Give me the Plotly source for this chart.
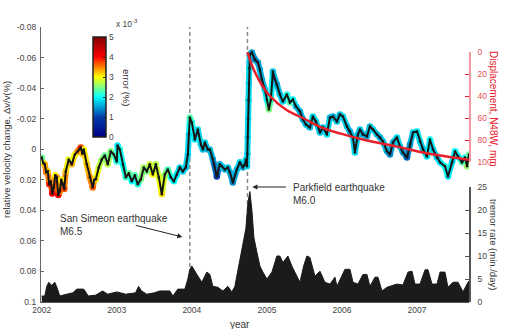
import plotly.graph_objects as go
from plotly.colors import sample_colorscale

# ---------------- data ----------------
# relative seismic velocity change dv/v (%) and its error (x1e-3 %)
dvv_year = [
    2002.00, 2002.02, 2002.04, 2002.06, 2002.08, 2002.10, 2002.12, 2002.14, 2002.16, 2002.18,
    2002.20, 2002.22, 2002.24, 2002.26, 2002.28, 2002.30, 2002.32,
    2002.36, 2002.40, 2002.44, 2002.48, 2002.52, 2002.54, 2002.56, 2002.60, 2002.64, 2002.68,
    2002.70, 2002.72, 2002.76, 2002.80, 2002.84, 2002.88, 2002.92, 2002.96,
    2003.00, 2003.01, 2003.04, 2003.08, 2003.12, 2003.16, 2003.20, 2003.24, 2003.28, 2003.32,
    2003.36, 2003.40, 2003.44, 2003.48, 2003.52, 2003.56, 2003.60, 2003.64, 2003.68, 2003.72,
    2003.76, 2003.80, 2003.84, 2003.88, 2003.92, 2003.947, 2003.96, 2003.973,
    2004.000, 2004.040, 2004.080, 2004.120, 2004.147, 2004.173, 2004.213, 2004.240, 2004.280,
    2004.333, 2004.373, 2004.400, 2004.440, 2004.480, 2004.507, 2004.547, 2004.600, 2004.640,
    2004.680, 2004.707, 2004.720,
    2004.735, 2004.740, 2004.745, 2004.750, 2004.755, 2004.760, 2004.765, 2004.773, 2004.800,
    2004.840, 2004.880, 2004.907, 2004.933, 2004.973, 2005.000, 2005.027, 2005.053, 2005.080,
    2005.107, 2005.133, 2005.173, 2005.213, 2005.267, 2005.307, 2005.347, 2005.387, 2005.440,
    2005.480, 2005.520, 2005.573, 2005.613, 2005.653, 2005.707, 2005.747, 2005.800, 2005.840,
    2005.880, 2005.933, 2005.973, 2006.013, 2006.067, 2006.107, 2006.147, 2006.173, 2006.213,
    2006.240, 2006.280, 2006.333, 2006.373, 2006.413, 2006.467, 2006.507, 2006.547, 2006.600,
    2006.640, 2006.680, 2006.733, 2006.773, 2006.813, 2006.867, 2006.907, 2006.947, 2007.000,
    2007.040, 2007.080, 2007.133, 2007.173, 2007.213, 2007.267, 2007.307, 2007.373, 2007.413,
    2007.467, 2007.507, 2007.547, 2007.600, 2007.640, 2007.667, 2007.693,
]
dvv_value = [
    0.0054, 0.0090, 0.0099, 0.0150, 0.0145, 0.0230, 0.0210, 0.0290, 0.0250, 0.0170,
    0.0184, 0.0300, 0.0276, 0.0200, 0.0230, 0.0260, 0.0145,
    0.0067, 0.0099, 0.0034, 0.0014, -0.0012, 0.0030, 0.0001, 0.0099, 0.0184, 0.0250,
    0.0200, 0.0197, 0.0119, 0.0067, 0.0041, 0.0099, 0.0014, 0.0034,
    0.0080, -0.0025, 0.0001, 0.0099, 0.0184, 0.0158, 0.0210, 0.0171, 0.0230, 0.0197,
    0.0119, 0.0145, 0.0099, 0.0165, 0.0099, 0.0184, 0.0295, 0.0165, 0.0132, 0.0184,
    0.0210, 0.0165, 0.0119, 0.0145, 0.0119, 0.0034, -0.0097, -0.0208,
    -0.0175, -0.0064, -0.0129, -0.0031, 0.0001, -0.0044, 0.0001, 0.0001, 0.0067,
    0.0178, 0.0099, 0.0112, 0.0132, 0.0119, 0.0152, 0.0217, 0.0132, 0.0086,
    0.0119, 0.0099, 0.0067,
    0.0112, 0.0030, -0.0080, -0.0200, -0.0320, -0.0430, -0.0530, -0.0620, -0.0633,
    -0.0587, -0.0567, -0.0520, -0.0456, -0.0391, -0.0325, -0.0260, -0.0325, -0.0509,
    -0.0456, -0.0424, -0.0358, -0.0312, -0.0358, -0.0306, -0.0325, -0.0280, -0.0247,
    -0.0195, -0.0162, -0.0142, -0.0214, -0.0182, -0.0110, -0.0142, -0.0097, -0.0208,
    -0.0214, -0.0182, -0.0227, -0.0214, -0.0149, -0.0116, -0.0077, 0.0021, -0.0097,
    -0.0129, -0.0097, -0.0084, -0.0149, -0.0129, -0.0097, -0.0077, -0.0051, 0.0014,
    0.0034, -0.0044, -0.0077, -0.0018, 0.0021, 0.0054, -0.0031, -0.0110, -0.0116,
    -0.0051, 0.0001, 0.0047, -0.0064, 0.0001, 0.0054, 0.0086, 0.0112, 0.0178,
    0.0086, 0.0014, 0.0047, 0.0086, 0.0054, 0.0112, 0.0034,
]
dvv_error = [
    2.4, 2.8, 3.3, 3.6, 3.2, 3.9, 3.4, 4.1, 3.6, 3.0,
    3.4, 4.0, 3.5, 3.1, 3.4, 3.7, 3.2,
    2.9, 3.3, 3.0, 3.5, 3.8, 3.2, 3.0, 3.2, 3.4, 3.6,
    3.3, 3.1, 2.8, 2.6, 2.4, 2.7, 2.5, 2.3,
    2.1, 1.9, 2.1, 2.0, 2.2, 2.4, 2.0, 2.3, 2.1, 2.5,
    2.6, 2.5, 2.8, 3.0, 2.7, 2.9, 3.1, 2.6, 2.3, 2.1,
    2.0, 1.9, 1.8, 1.8, 1.7, 1.8, 1.8, 2.3,
    2.1, 1.9, 1.8, 1.8, 1.7, 1.8, 1.6, 1.7, 1.5,
    1.0, 1.6, 1.7, 1.6, 1.7, 1.6, 1.4, 1.7, 1.8,
    1.6, 1.7, 1.8,
    1.8, 1.8, 1.8, 1.8, 1.8, 1.8, 1.8, 1.7, 1.5,
    1.4, 1.5, 1.6, 1.6, 1.7, 2.0, 2.5, 2.2, 1.7,
    1.6, 1.6, 1.7, 1.8, 2.1, 2.3, 2.0, 1.7, 1.6,
    1.6, 1.7, 1.7, 1.8, 1.8, 1.7, 1.7, 1.9, 1.7,
    1.6, 1.7, 1.7, 1.8, 1.7, 1.6, 1.7, 1.8, 1.7,
    1.7, 1.6, 1.6, 1.7, 1.8, 1.7, 1.6, 1.7, 1.6,
    1.4, 1.6, 1.8, 1.7, 1.5, 1.2, 1.5, 1.8, 1.9,
    1.8, 1.7, 1.9, 2.0, 1.8, 1.7, 1.9, 2.1, 1.9,
    1.8, 2.0, 1.9, 2.3, 2.1, 2.6, 2.4,
]

# postseismic displacement (mm) after Parkfield
disp_year = [2004.741, 2004.800, 2004.867, 2004.933, 2005.040, 2005.267, 2005.480,
             2005.707, 2005.973, 2006.307, 2006.733, 2007.133, 2007.693]
disp_mm = [0, 12, 22, 30, 40, 53, 60, 68, 74, 80, 86, 92, 98]

# tremor rate (min./day)
tremor_year = [
    2002.000, 2002.040, 2002.067, 2002.093, 2002.133, 2002.173, 2002.207, 2002.240, 2002.333, 2002.413,
    2002.467, 2002.560, 2002.620, 2002.720, 2002.810, 2002.880, 2003.000, 2003.120, 2003.250, 2003.290,
    2003.330, 2003.400, 2003.500, 2003.573, 2003.707, 2003.747, 2003.813, 2003.907, 2003.947, 2003.973,
    2004.000, 2004.027, 2004.067, 2004.133, 2004.200, 2004.240, 2004.280, 2004.347, 2004.413, 2004.480,
    2004.533, 2004.573, 2004.613, 2004.640, 2004.680, 2004.720, 2004.747, 2004.773, 2004.800, 2004.827,
    2004.867, 2004.907, 2004.947, 2005.000, 2005.067, 2005.133, 2005.173, 2005.213, 2005.280, 2005.333,
    2005.400, 2005.440, 2005.493, 2005.533, 2005.573, 2005.640, 2005.707, 2005.773, 2005.840, 2005.907,
    2005.933, 2006.040, 2006.107, 2006.147, 2006.213, 2006.280, 2006.333, 2006.373, 2006.440, 2006.480,
    2006.533, 2006.600, 2006.733, 2006.813, 2006.880, 2006.933, 2006.973, 2007.040, 2007.107, 2007.147,
    2007.200, 2007.267, 2007.307, 2007.373, 2007.413, 2007.480, 2007.547, 2007.613, 2007.680, 2007.693,
]
tremor_rate = [
    1.3, 1.3, 3.4, 4.3, 3.6, 4.3, 3.0, 1.3, 1.7, 2.0,
    2.8, 2.8, 1.3, 1.5, 2.4, 1.7, 2.2, 1.7, 2.0, 3.4,
    2.4, 1.7, 2.0, 2.4, 2.4, 1.3, 2.8, 2.8, 5.0, 7.1,
    7.8, 7.0, 6.0, 4.3, 6.5, 6.0, 3.4, 3.2, 2.4, 3.4,
    2.2, 3.4, 7.0, 9.3, 13.0, 16.0, 21.5, 24.0, 20.0, 14.0,
    10.8, 7.8, 6.5, 5.0, 6.5, 10.0, 10.0, 8.6, 10.0, 7.8,
    5.6, 4.3, 8.0, 10.0, 9.7, 5.6, 6.7, 4.3, 3.9, 5.4,
    3.4, 7.1, 7.1, 4.3, 3.9, 6.0, 6.0, 3.4, 5.4, 5.4,
    2.4, 3.2, 3.9, 3.7, 6.5, 6.7, 3.9, 3.9, 7.0, 7.0,
    3.9, 3.9, 6.5, 6.5, 3.2, 4.3, 4.3, 2.2, 4.3, 4.6,
]

# earthquakes: San Simeon (2003-12-22) and Parkfield (2004-09-28)
quake_year = [2003.973, 2004.741]

year_ticks = [2002, 2003, 2004, 2005, 2006, 2007]
dvv_ticks = [-0.08, -0.06, -0.04, -0.02, 0, 0.02, 0.04, 0.06, 0.08, 0.1]
dvv_ticktext = ["-0.08", "-0.06", "-0.04", "-0.02", "0", "0.02", "0.04", "0.06", "0.08", "0.1"]
disp_ticks = [0, 20, 40, 60, 80, 100]
tremor_ticks = [0, 5, 10, 15, 20, 25]
error_ticks = [0, 1, 2, 3, 4, 5]
ERR_MIN, ERR_MAX = 0, 5

# ---------------- layout helpers ----------------
W, H = 506, 329
ML, MR, MT, MB = 41, 37, 27, 27
PW, PH = W - ML - MR, H - MT - MB


def px(x):
    return (x - ML) / PW


def py(y):
    return (H - MB - y) / PH


FONT = "Liberation Sans, Arial, Helvetica, sans-serif"
GREY = "#444444"
RED = "#e8202a"

fig = go.Figure()

# tremor rate, filled
fig.add_trace(go.Scatter(
    x=tremor_year, y=tremor_rate, yaxis="y3", mode="lines",
    line=dict(color="#1b1a1c", width=1), fill="tozeroy", fillcolor="#1b1a1c",
    hoverinfo="skip", showlegend=False))

# coloured halo along the dv/v curve: each segment takes the colour of its mean error
seg_err = [(dvv_error[i] + dvv_error[i + 1]) / 2 for i in range(len(dvv_year) - 1)]
seg_col = sample_colorscale("Jet", [(e - ERR_MIN) / (ERR_MAX - ERR_MIN) for e in seg_err])
for i, col in enumerate(seg_col):
    fig.add_trace(go.Scatter(
        x=dvv_year[i:i + 2], y=dvv_value[i:i + 2], mode="lines",
        line=dict(color=col, width=6), hoverinfo="skip", showlegend=False))

# dv/v points coloured by error (with colour bar)
fig.add_trace(go.Scatter(
    x=dvv_year, y=dvv_value, mode="markers",
    marker=dict(
        size=6.5, color=dvv_error, colorscale="Jet", cmin=ERR_MIN, cmax=ERR_MAX,
        line=dict(width=0),
        colorbar=dict(
            x=px(93), xanchor="left", xpad=0,
            y=py(37), yanchor="top", ypad=0,
            len=100 / PH, lenmode="fraction", thickness=13,
            outlinecolor="#222222", outlinewidth=1.5,
            tickvals=error_ticks, ticks="inside", ticklen=3, tickcolor="#222222",
            tickfont=dict(family=FONT, size=8.5, color=GREY),
        ),
    ),
    showlegend=False))

# dv/v black trace on top
fig.add_trace(go.Scatter(
    x=dvv_year, y=dvv_value, mode="lines+markers",
    line=dict(color="#151515", width=2),
    marker=dict(size=2.5, color="#151515"),
    showlegend=False))

# displacement
fig.add_trace(go.Scatter(
    x=disp_year, y=disp_mm, yaxis="y2", mode="lines",
    line=dict(color=RED, width=2.5, shape="spline", smoothing=1.0),
    showlegend=False))

# earthquake times
shapes = [
    dict(type="line", xref="x", yref="paper", x0=q, x1=q, y0=0, y1=1,
         line=dict(color="#8a8a8a", width=1.5, dash="4px,3px"), layer="below")
    for q in quake_year
]

txt = dict(family=FONT, size=10, color="#333333")
annotations = [
    dict(text="San Simeon earthquake<br>M6.5", xref="paper", yref="paper",
         x=px(58), y=py(211), xanchor="left", yanchor="top", align="left",
         showarrow=False, font=txt),
    dict(text="", xref="x", yref="paper", x=2003.873, y=py(237),
         ax=-48, ay=-12, showarrow=True, arrowhead=2, arrowsize=1,
         arrowwidth=1, arrowcolor="#222222"),
    dict(text="Parkfield earthquake<br>M6.0", xref="paper", yref="paper",
         x=px(291), y=py(180), xanchor="left", yanchor="top", align="left",
         showarrow=False, font=txt),
    dict(text="", xref="x", yref="paper", x=2004.807, y=py(187),
         ax=35, ay=0, showarrow=True, arrowhead=2, arrowsize=1,
         arrowwidth=1, arrowcolor="#222222"),
    dict(text="relative velocity change, \u0394v/v(%)", xref="paper", yref="paper",
         x=px(6), y=py(150), xanchor="center", yanchor="middle", textangle=-90,
         showarrow=False, font=dict(family=FONT, size=9.5, color="#333333")),
    dict(text="Displacement, N48W, mm", xref="paper", yref="paper",
         x=px(494), y=py(109), xanchor="center", yanchor="middle", textangle=90,
         showarrow=False, font=dict(family=FONT, size=10, color=RED)),
    dict(text="tremor rate (min./day)", xref="paper", yref="paper",
         x=px(494), y=py(245), xanchor="center", yanchor="middle", textangle=90,
         showarrow=False, font=dict(family=FONT, size=9.5, color="#333333")),
    dict(text="year", xref="paper", yref="paper", x=px(240), y=py(324),
         xanchor="center", yanchor="middle", showarrow=False, font=txt),
    dict(text="x 10<sup>-3</sup>", xref="paper", yref="paper",
         x=px(114), y=py(24), xanchor="left", yanchor="middle", showarrow=False,
         font=dict(family=FONT, size=8.5, color=GREY)),
    dict(text="error (%)", xref="paper", yref="paper",
         x=px(127), y=py(87), xanchor="center", yanchor="middle", textangle=90,
         showarrow=False, font=dict(family=FONT, size=9.5, color="#333333")),
]

tickfont = dict(family=FONT, size=8.5, color=GREY)

fig.update_layout(
    width=W, height=H,
    margin=dict(l=ML, r=MR, t=MT, b=MB, pad=0),
    paper_bgcolor="white", plot_bgcolor="rgba(0,0,0,0)",
    showlegend=False,
    xaxis=dict(
        range=[2001.99, 2007.693], tickvals=year_ticks, ticktext=[str(y) for y in year_ticks],
        showgrid=False, zeroline=False, showline=True, linecolor="#555555", linewidth=1,
        ticks="inside", ticklen=3, tickcolor="#555555", tickfont=tickfont,
    ),
    yaxis=dict(
        domain=[0, 1], range=[0.1, -0.08], tickvals=dvv_ticks, ticktext=dvv_ticktext,
        showgrid=False, zeroline=False, showline=True, linecolor="#666666", linewidth=1.2,
        ticks="inside", ticklen=3, tickcolor="#666666", tickfont=tickfont,
        ticklabelstandoff=2,
    ),
    yaxis2=dict(
        domain=[py(162), py(52)], anchor="x", side="right", range=[100, 0],
        tickvals=disp_ticks, showgrid=False, zeroline=False,
        showline=True, linecolor="#f29aa0", linewidth=1.5,
        ticks="inside", ticklen=4, tickcolor=RED,
        tickfont=dict(family=FONT, size=8.5, color="#e8505a"),
        ticklabelstandoff=5,
    ),
    yaxis3=dict(
        domain=[0, py(187)], anchor="x", side="right", range=[0, 25],
        tickvals=tremor_ticks, showgrid=False, zeroline=False,
        showline=True, linecolor="#555555", linewidth=1.5,
        ticks="inside", ticklen=4, tickcolor="#555555", tickfont=tickfont,
        ticklabelstandoff=5,
    ),
    shapes=shapes,
    annotations=annotations,
)

fig.write_html("out.html")
